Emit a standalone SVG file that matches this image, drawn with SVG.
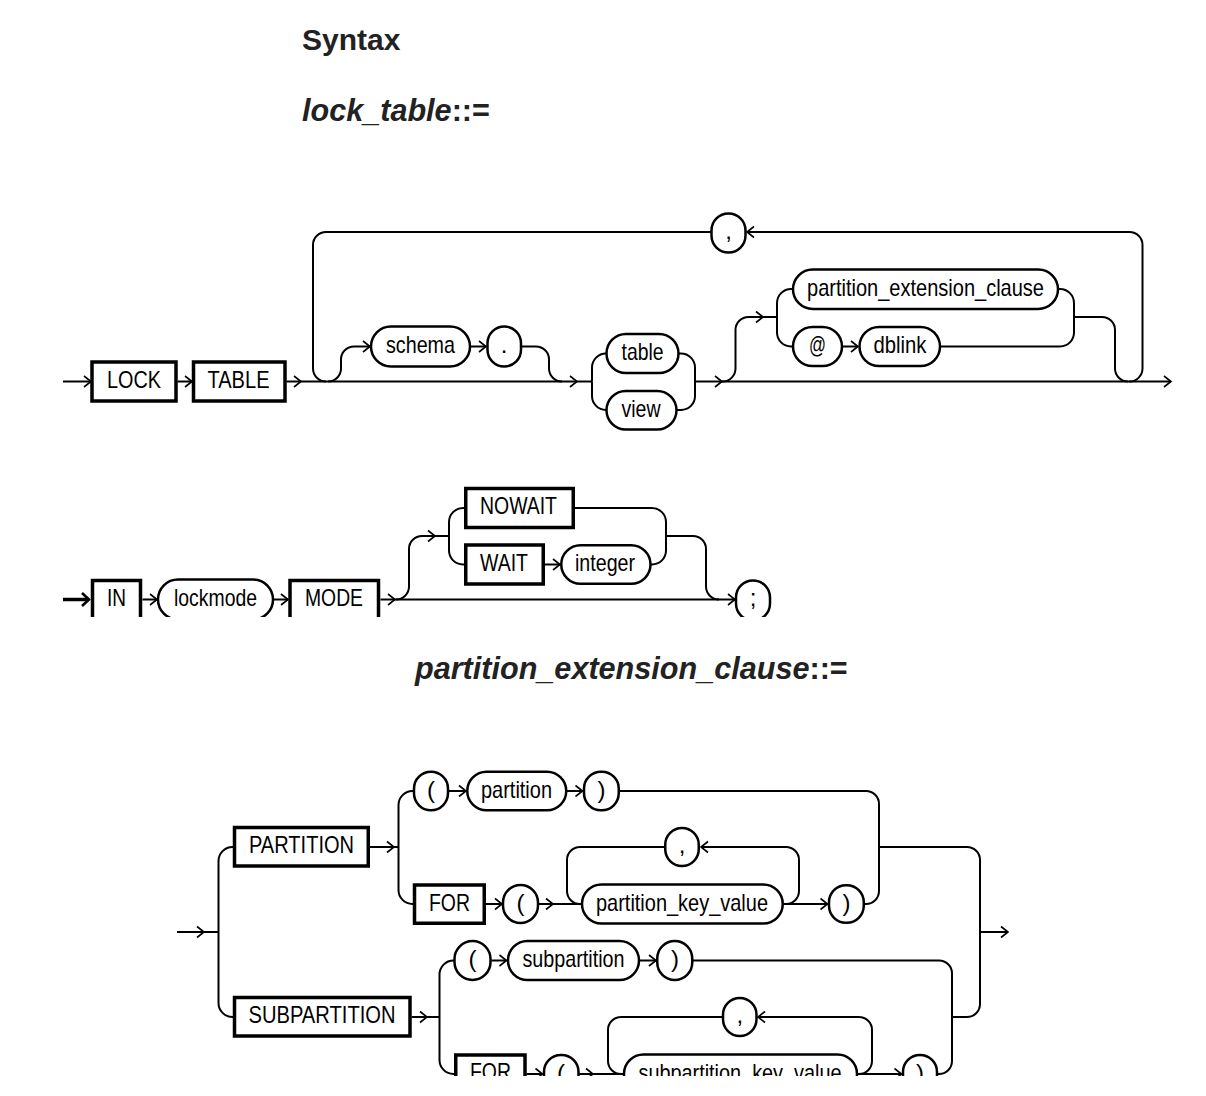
<svg xmlns="http://www.w3.org/2000/svg" width="1206" height="1096" viewBox="0 0 1206 1096">
<style>
.h{font-family:"Liberation Sans",Arial,sans-serif;font-size:30px;font-weight:bold;fill:#222}
.h2{font-size:30.6px}
.t{font-family:"Liberation Sans Narrow","Liberation Sans",Arial,sans-serif;font-size:24px;fill:#000}
.c{text-anchor:middle}
.ln{fill:none;stroke:#000;stroke-width:2}
.ar{fill:none;stroke:#000;stroke-width:2;marker-end:url(#a)}
.box{fill:#fff;stroke:#000;stroke-width:3.5}
.pill{fill:#fff;stroke:#000;stroke-width:2.5}
</style>
<defs>
<marker id="a" markerUnits="userSpaceOnUse" markerWidth="10" markerHeight="14" viewBox="-8 -7 10 14" refX="0" refY="0" orient="auto" overflow="visible"><path d="M-7,-5.5 L0,0 L-7,5.5" fill="none" stroke="#000" stroke-width="1.6"/></marker>
<marker id="ab" markerUnits="userSpaceOnUse" markerWidth="10" markerHeight="16" viewBox="-8 -8 10 16" refX="0" refY="0" orient="auto" overflow="visible"><path d="M-7,-6.5 L0,0 L-7,6.5" fill="none" stroke="#000" stroke-width="2.6"/></marker>
<clipPath id="clip2"><rect x="0" y="440" width="1206" height="177"/></clipPath>
<clipPath id="clip3"><rect x="0" y="740" width="1206" height="336"/></clipPath>
</defs>
<rect x="0" y="0" width="1206" height="1096" fill="#fff"/>

<g id="titles">
<text class="h" x="302" y="50">Syntax</text>
<text class="h h2" x="302" y="121"><tspan font-style="italic">lock_table</tspan>::=</text>
<text class="h h2" x="415" y="679"><tspan font-style="italic">partition_extension_clause</tspan>::=</text>
</g>

<!-- Diagram 1 -->
<g id="d1-connectors">
<path class="ar" d="M63,381.5 H91"/>
<path class="ar" d="M177.5,381.5 H192"/>
<path class="ar" d="M286.5,381.5 H301"/>
<path class="ar" d="M301,381.5 H577"/>
<path class="ln" d="M577,381.5 H592"/>
<path class="ln" d="M592,381.5 V367.5 A14,14 0 0 1 606,353.5"/>
<path class="ln" d="M592,381.5 V396 A14,14 0 0 0 606,410"/>
<path class="ln" d="M679,353.5 H681 A14,14 0 0 1 695,367.5 V396 A14,14 0 0 1 681,410 H677"/>
<path class="ar" d="M695,381.5 H722"/>
<path class="ar" d="M722,381.5 H1171"/>
<path class="ar" d="M328,381.5 A13,13 0 0 0 341,368.5 V359.5 A13,13 0 0 1 354,346.5 H370"/>
<path class="ar" d="M470,346.5 H486"/>
<path class="ln" d="M521,346.5 H536 A13,13 0 0 1 549,359.5 V368.5 A13,13 0 0 0 562,381.5"/>
<path class="ar" d="M1129,381.5 A13,13 0 0 0 1142.5,368.5 V245 A13,13 0 0 0 1129.5,232 H747"/>
<path class="ln" d="M711,232 H326 A13,13 0 0 0 313,245 V368.5 A13,13 0 0 0 326,381.5"/>
<path class="ar" d="M722,381.5 A13,13 0 0 0 735.5,368.5 V330 A13,13 0 0 1 748.5,317 H763"/>
<path class="ln" d="M763,317 H777"/>
<path class="ln" d="M777,317 V303 A14,14 0 0 1 791,289 H793"/>
<path class="ln" d="M777,317 V332.5 A14,14 0 0 0 791,346.5 H793"/>
<path class="ar" d="M842,346.5 H858"/>
<path class="ln" d="M1058,289 H1060 A14,14 0 0 1 1074,303 V332.5 A14,14 0 0 1 1060,346.5 H940"/>
<path class="ln" d="M1074,317 H1102 A13,13 0 0 1 1115,330 V368.5 A13,13 0 0 0 1128,381.5"/>
</g>
<g id="n-lock"><rect class="box" x="92" y="362" width="84" height="39"/><text class="t" x="107" y="387.5" textLength="54" lengthAdjust="spacingAndGlyphs">LOCK</text></g>
<g id="n-table-kw"><rect class="box" x="193.5" y="362" width="91.5" height="39"/><text class="t" x="207.5" y="387.5" textLength="62" lengthAdjust="spacingAndGlyphs">TABLE</text></g>
<g id="n-schema"><rect class="pill" x="371" y="326.5" width="99" height="40" rx="20"/><text class="t" x="386" y="353" textLength="69" lengthAdjust="spacingAndGlyphs">schema</text></g>
<g id="n-dot"><rect class="pill" x="487.5" y="326.5" width="33.5" height="40" rx="16.75"/><text class="t c" x="504" y="353">.</text></g>
<g id="n-table"><rect class="pill" x="606.5" y="334" width="72" height="39" rx="19.5"/><text class="t" x="621.5" y="359.5" textLength="42" lengthAdjust="spacingAndGlyphs">table</text></g>
<g id="n-view"><rect class="pill" x="606.5" y="391" width="70" height="38.5" rx="19.25"/><text class="t" x="621.5" y="416.5" textLength="39" lengthAdjust="spacingAndGlyphs">view</text></g>
<g id="n-comma1"><rect class="pill" x="711.5" y="213.5" width="34" height="39" rx="17"/><text class="t c" x="728.5" y="239">,</text></g>
<g id="n-pec"><rect class="pill" x="793" y="269.5" width="265" height="39.5" rx="19.75"/><text class="t" x="807" y="296" textLength="237" lengthAdjust="spacingAndGlyphs">partition_extension_clause</text></g>
<g id="n-at"><rect class="pill" x="793" y="327" width="49" height="39" rx="19.5"/><text class="t" x="809" y="353" textLength="17" lengthAdjust="spacingAndGlyphs">@</text></g>
<g id="n-dblink"><rect class="pill" x="859.5" y="327" width="80.5" height="39" rx="19.5"/><text class="t" x="873.5" y="353" textLength="53" lengthAdjust="spacingAndGlyphs">dblink</text></g>

<!-- Diagram 2 -->
<g clip-path="url(#clip2)">
<g id="d2-connectors">
<path d="M63,599.5 H89" fill="none" stroke="#000" stroke-width="3.5" marker-end="url(#ab)"/>
<path class="ar" d="M142.5,599.5 H157"/>
<path class="ar" d="M274,599.5 H288"/>
<path class="ar" d="M380.5,599.5 H395"/>
<path class="ar" d="M395,599.5 H735"/>
<path class="ar" d="M396,599.5 A13,13 0 0 0 409,586.5 V549 A13,13 0 0 1 422,536 H435"/>
<path class="ln" d="M435,536 H449"/>
<path class="ln" d="M449,536 V522 A14,14 0 0 1 463,508 H464"/>
<path class="ln" d="M449,536 V550.5 A14,14 0 0 0 463,564.5 H464"/>
<path class="ar" d="M545,564.5 H560"/>
<path class="ln" d="M575,508 H652 A14,14 0 0 1 666,522 V550.5 A14,14 0 0 1 652,564.5 H651"/>
<path class="ln" d="M666,536 H693 A13,13 0 0 1 706,549 V586.5 A13,13 0 0 0 719,599.5"/>
</g>
<g id="n-in"><rect class="box" x="92.5" y="580.5" width="48" height="39"/><text class="t" x="107" y="606" textLength="19" lengthAdjust="spacingAndGlyphs">IN</text></g>
<g id="n-lockmode"><rect class="pill" x="158" y="579.5" width="115" height="40" rx="20"/><text class="t" x="174" y="606" textLength="83" lengthAdjust="spacingAndGlyphs">lockmode</text></g>
<g id="n-mode"><rect class="box" x="290" y="580.5" width="88.5" height="39"/><text class="t" x="305" y="606" textLength="58" lengthAdjust="spacingAndGlyphs">MODE</text></g>
<g id="n-nowait"><rect class="box" x="465.75" y="488.5" width="107.5" height="39"/><text class="t" x="480" y="514" textLength="77" lengthAdjust="spacingAndGlyphs">NOWAIT</text></g>
<g id="n-wait"><rect class="box" x="465.75" y="545" width="77.5" height="39"/><text class="t" x="480" y="570.5" textLength="48" lengthAdjust="spacingAndGlyphs">WAIT</text></g>
<g id="n-integer"><rect class="pill" x="561.25" y="545.25" width="89.25" height="38.5" rx="19.25"/><text class="t" x="575" y="570.5" textLength="60" lengthAdjust="spacingAndGlyphs">integer</text></g>
<g id="n-semi"><rect class="pill" x="736" y="580.5" width="34" height="40" rx="17"/><text class="t c" x="753" y="606">;</text></g>
</g>

<!-- Diagram 3 -->
<g clip-path="url(#clip3)">
<g id="d3-connectors">
<path class="ar" d="M177,932 H204"/>
<path class="ln" d="M204,932 H218.5"/>
<path class="ln" d="M218.5,932 V861 A14,14 0 0 1 232.5,847 H234"/>
<path class="ln" d="M218.5,932 V1003 A14,14 0 0 0 232.5,1017 H234"/>
<path class="ar" d="M370,847 H394"/>
<path class="ln" d="M394,847 H398.5"/>
<path class="ln" d="M398.5,847 V805 A14,14 0 0 1 412.5,791 H414"/>
<path class="ln" d="M398.5,847 V890 A14,14 0 0 0 412.5,904 H414"/>
<path class="ar" d="M449,791 H466"/>
<path class="ar" d="M567,791 H582.5"/>
<path class="ln" d="M620,791 H866 A13,13 0 0 1 879,804 V891 A13,13 0 0 1 866,904 H865"/>
<path class="ln" d="M879,847 H967 A13,13 0 0 1 980,860 V1004 A13,13 0 0 1 967,1017 H952"/>
<path class="ar" d="M980,932 H1008"/>
<path class="ar" d="M486,904 H502"/>
<path class="ar" d="M539,904 H553"/>
<path class="ln" d="M553,904 H581"/>
<path class="ln" d="M665,847 H580 A13,13 0 0 0 567,860 V891 A13,13 0 0 0 580,904"/>
<path class="ar" d="M784,904 H786 A13,13 0 0 0 799,891 V860 A13,13 0 0 0 786,847 H701"/>
<path class="ar" d="M784,904 H827.5"/>
<path class="ar" d="M411.5,1017 H427"/>
<path class="ln" d="M427,1017 H439.5"/>
<path class="ln" d="M439.5,1017 V974.5 A14,14 0 0 1 453.5,960.5 H455"/>
<path class="ln" d="M439.5,1017 V1060 A14,14 0 0 0 453.5,1074 H455"/>
<path class="ar" d="M491.5,960.5 H506.5"/>
<path class="ar" d="M640,960.5 H656"/>
<path class="ln" d="M693,960.5 H939 A13,13 0 0 1 952,973.5 V1061 A13,13 0 0 1 939,1074 H938"/>
<path class="ar" d="M526.5,1074 H542.5"/>
<path class="ar" d="M579,1074 H593"/>
<path class="ln" d="M593,1074 H623"/>
<path class="ln" d="M723,1017 H621 A13,13 0 0 0 608,1030 V1061 A13,13 0 0 0 621,1074"/>
<path class="ar" d="M858,1074 H859 A13,13 0 0 0 872,1061 V1030 A13,13 0 0 0 859,1017 H758"/>
<path class="ar" d="M858,1074 H901.5"/>
</g>
<g id="n-partition-kw"><rect class="box" x="234.5" y="827.5" width="133.75" height="38.5"/><text class="t" x="249" y="853" textLength="105" lengthAdjust="spacingAndGlyphs">PARTITION</text></g>
<g id="n-lp1"><rect class="pill" x="414" y="771.75" width="34" height="38.5" rx="17"/><text class="t c" x="431" y="798">(</text></g>
<g id="n-partition"><rect class="pill" x="467.25" y="771.75" width="99" height="38.5" rx="19.25"/><text class="t" x="481" y="798" textLength="71" lengthAdjust="spacingAndGlyphs">partition</text></g>
<g id="n-rp1"><rect class="pill" x="584" y="771.75" width="34.75" height="38.5" rx="17"/><text class="t c" x="601.5" y="798">)</text></g>
<g id="n-for1"><rect class="box" x="414.5" y="885" width="69.75" height="38.25"/><text class="t" x="429" y="910.5" textLength="41" lengthAdjust="spacingAndGlyphs">FOR</text></g>
<g id="n-lp2"><rect class="pill" x="503" y="885" width="35" height="38" rx="17.5"/><text class="t c" x="520.5" y="911">(</text></g>
<g id="n-comma2"><rect class="pill" x="665.25" y="828" width="33.5" height="38" rx="16.75"/><text class="t c" x="682" y="853">,</text></g>
<g id="n-pkv"><rect class="pill" x="582" y="884.5" width="200.75" height="39" rx="19.5"/><text class="t" x="596" y="911" textLength="172" lengthAdjust="spacingAndGlyphs">partition_key_value</text></g>
<g id="n-rp2"><rect class="pill" x="829" y="885.25" width="34.75" height="37.5" rx="17"/><text class="t c" x="846.5" y="911">)</text></g>
<g id="n-subpartition-kw"><rect class="box" x="234.5" y="997.5" width="175.5" height="38.5"/><text class="t" x="248.5" y="1023" textLength="147" lengthAdjust="spacingAndGlyphs">SUBPARTITION</text></g>
<g id="n-lp3"><rect class="pill" x="454.5" y="941" width="36" height="39" rx="18"/><text class="t c" x="472.5" y="967">(</text></g>
<g id="n-subpartition"><rect class="pill" x="508" y="941" width="131" height="39" rx="19.5"/><text class="t" x="522.5" y="967" textLength="102" lengthAdjust="spacingAndGlyphs">subpartition</text></g>
<g id="n-rp3"><rect class="pill" x="657.25" y="941" width="35" height="39" rx="17.5"/><text class="t c" x="675" y="967">)</text></g>
<g id="n-for2"><rect class="box" x="455.75" y="1055" width="69.25" height="38.5"/><text class="t" x="470" y="1080" textLength="41" lengthAdjust="spacingAndGlyphs">FOR</text></g>
<g id="n-lp4"><rect class="pill" x="544" y="1055" width="34.5" height="38" rx="17"/><text class="t c" x="561" y="1081">(</text></g>
<g id="n-comma3"><rect class="pill" x="723" y="998" width="33.5" height="38" rx="16.75"/><text class="t c" x="739.75" y="1023">,</text></g>
<g id="n-skv"><rect class="pill" x="624" y="1054.5" width="233" height="39" rx="19.5"/><text class="t" x="638.5" y="1080.5" textLength="203" lengthAdjust="spacingAndGlyphs">subpartition_key_value</text></g>
<g id="n-rp4"><rect class="pill" x="903" y="1055" width="34" height="38" rx="17"/><text class="t c" x="920" y="1081">)</text></g>
</g>
</svg>
